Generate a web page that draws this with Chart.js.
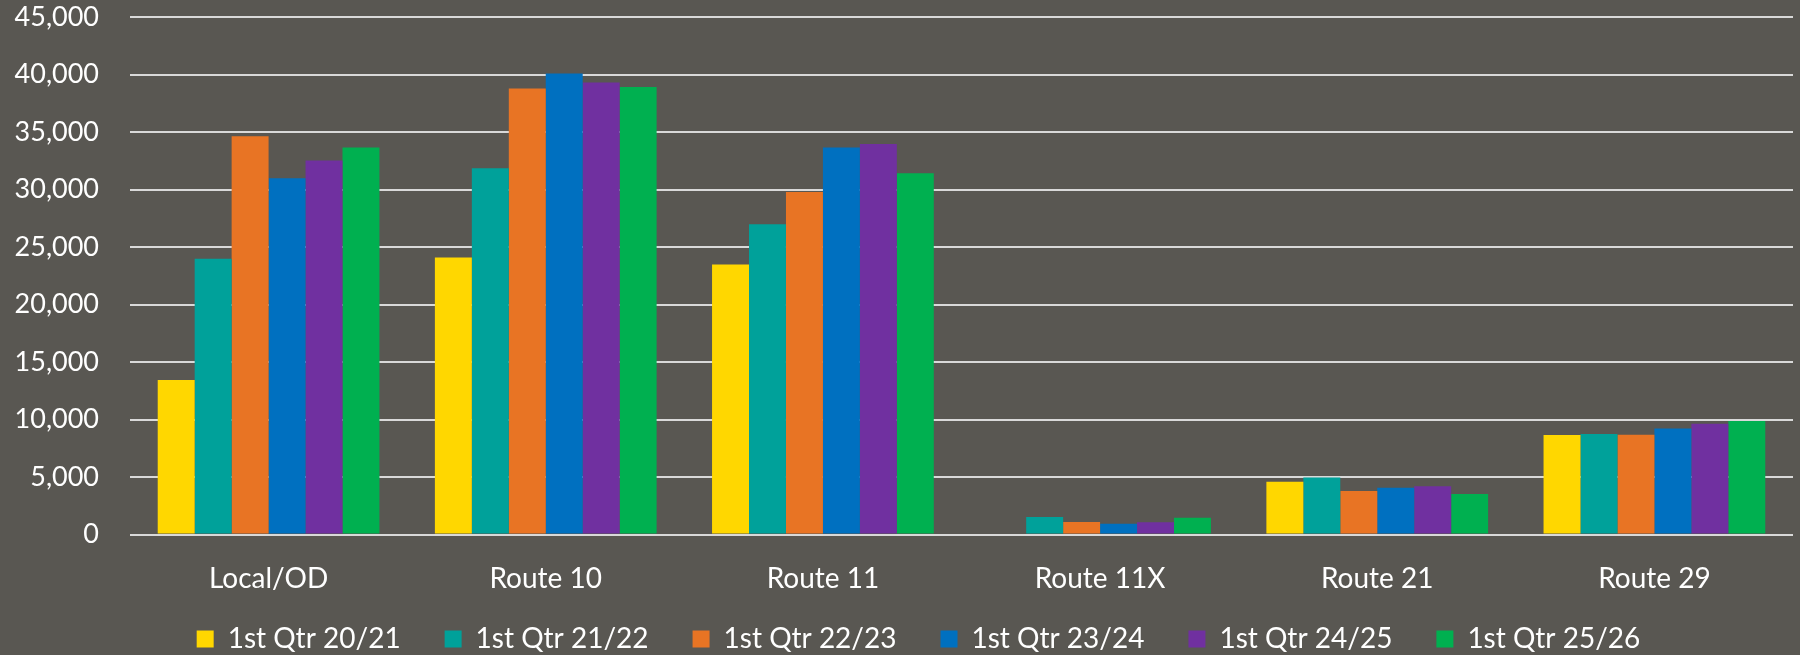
<!DOCTYPE html>
<html>
<head>
<meta charset="utf-8">
<script src="https://cdn.jsdelivr.net/npm/chart.js@4.4.1/dist/chart.umd.min.js"></script>
<style>
  html, body { margin: 0; padding: 0; background: #595752; }
  #wrap { width: 1800px; height: 655px; }
</style>
</head>
<body>
<div id="wrap"><canvas id="barChart" width="1800" height="655"></canvas></div>
<script>
//categories
let routes = ["Local/OD", "Route 10", "Route 11", "Route 11X", "Route 21", "Route 29"]
//data collected, one list per quarter
let qtr2021 = [13450, 24100, 23500, 0, 4590, 8650]
let qtr2122 = [24000, 31870, 27000, 1520, 4970, 8740]
let qtr2223 = [34650, 38800, 29800, 1090, 3780, 8680]
let qtr2324 = [31000, 40100, 33670, 940, 4070, 9230]
let qtr2425 = [32550, 39320, 33980, 1060, 4190, 9630]
let qtr2526 = [33670, 38940, 31430, 1460, 3520, 9870]
let seriesNames = ["1st Qtr 20/21", "1st Qtr 21/22", "1st Qtr 22/23", "1st Qtr 23/24", "1st Qtr 24/25", "1st Qtr 25/26"]
let colors = ["#FFD700", "#00A19A", "#E87424", "#0070C0", "#7030A0", "#00B050"]
let yMax = 45000
let yStep = 5000

let allSeries = [qtr2021, qtr2122, qtr2223, qtr2324, qtr2425, qtr2526]
let textColor = "#ffffff"
let fontName = "Lato"

// nudge the legend up/right so it sits where the original one does
// (legend clips to its own box, so only grow it upwards)
let legendNudge = {
    id: "legendNudge",
    afterLayout(chart) {
        let lg = chart.legend
        if (!lg) return
        lg.top -= 14
        lg.left += 22
        lg.right += 22
    }
}

let ctx = document.getElementById("barChart").getContext("2d")
let chart = new Chart(ctx, {
    type: "bar",
    data: {
        labels: routes,
        datasets: allSeries.map((vals, i) => ({
            label: seriesNames[i],
            data: vals,
            backgroundColor: colors[i],
            borderWidth: 0,
            categoryPercentage: 0.8,
            barPercentage: 1.0
        }))
    },
    plugins: [legendNudge],
    options: {
        responsive: false,
        animation: false,
        layout: {
            padding: { top: 0, right: 7, left: 0, bottom: 0 }
        },
        plugins: {
            legend: {
                position: "bottom",
                maxHeight: 60,
                labels: {
                    color: textColor,
                    font: { family: fontName, size: 28 },
                    boxWidth: 17,
                    boxHeight: 17,
                    padding: 44
                }
            },
            tooltip: { enabled: false }
        },
        scales: {
            x: {
                grid: { display: false },
                border: { display: false },
                ticks: {
                    color: textColor,
                    font: { family: fontName, size: 28 },
                    padding: 20
                },
                afterFit: function (scale) { scale.height = 60.5 }
            },
            y: {
                min: 0,
                max: yMax,
                grid: {
                    color: "#d9d9d9",
                    lineWidth: 2,
                    drawTicks: false
                },
                border: { display: false },
                ticks: {
                    stepSize: yStep,
                    color: textColor,
                    font: { family: fontName, size: 27 },
                    padding: 31,
                    callback: v => v.toLocaleString("en-US")
                },
                afterFit: function (scale) {
                    scale.width = 130
                    scale.paddingTop = 17.3
                    scale.paddingBottom = 17
                }
            }
        }
    }
})
</script>
</body>
</html>
